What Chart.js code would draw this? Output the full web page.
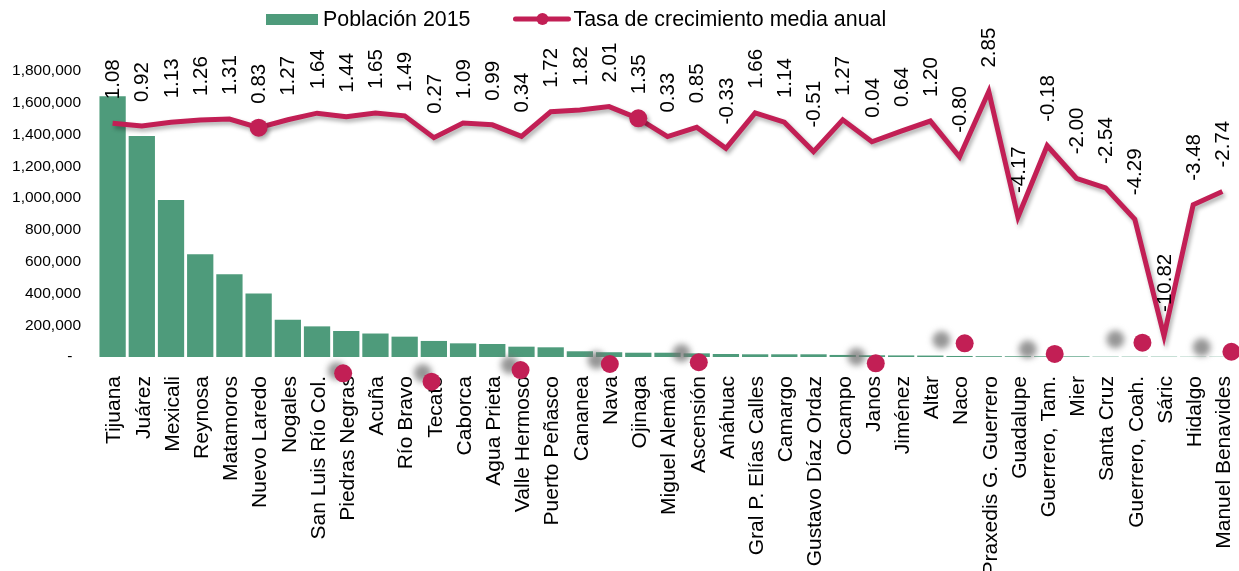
<!DOCTYPE html>
<html>
<head>
<meta charset="utf-8">
<script src="https://cdn.jsdelivr.net/npm/chart.js@4.4.0/dist/chart.umd.min.js"></script>
<style>
html,body{margin:0;padding:0;background:#fff;}
#wrap{width:1239px;height:571px;position:relative;}
</style>
</head>
<body>
<div id="wrap"><canvas id="c" width="1239" height="571"></canvas></div>
<script>
// ---------- DATA ----------
const categories = ["Tijuana","Juárez","Mexicali","Reynosa","Matamoros","Nuevo Laredo","Nogales","San Luis Río Col.","Piedras Negras","Acuña","Río Bravo","Tecate","Caborca","Agua Prieta","Valle Hermoso","Puerto Peñasco","Cananea","Nava","Ojinaga","Miguel Alemán","Ascensión","Anáhuac","Gral P. Elías Calles","Camargo","Gustavo Díaz Ordaz","Ocampo","Janos","Jiménez","Altar","Naco","Praxedis G. Guerrero","Guadalupe","Guerrero, Tam.","Mier","Santa Cruz","Guerrero, Coah.","Sáric","Hidalgo","Manuel Benavides"];

const population2015 = [1641570,1391180,988417,646202,520367,399431,233952,192739,163595,147809,128000,101000,86000,82000,65000,61000,36000,30000,27000,27000,23000,19000,17000,17000,17000,13000,11000,10000,9000,6500,5000,4500,4300,4100,2000,2000,2000,1500,1500];

const growthRate = [1.08,0.92,1.13,1.26,1.31,0.83,1.27,1.64,1.44,1.65,1.49,0.27,1.09,0.99,0.34,1.72,1.82,2.01,1.35,0.33,0.85,-0.33,1.66,1.14,-0.51,1.27,0.04,0.64,1.20,-0.80,2.85,-4.17,-0.18,-2.00,-2.54,-4.29,-10.82,-3.48,-2.74];

const seriesNames = ["Población 2015", "Tasa de crecimiento media anual"];

const populationTicks = [0,200000,400000,600000,800000,1000000,1200000,1400000,1600000,1800000];
const rateRange = [-12, 4];

// categories whose line marker is visible
const lineMarkerIdx = [5, 18];

// stray markers seen in the picture (category position, population units)
const strayRedX = [7.894,10.921,13.968,17.025,20.072,26.131,29.175,32.258,35.262,38.308];
const strayRedY = [-103000,-155000,-82000,-44000,-33000,-40000,86000,19000,90000,33000];
const strayGrayX = [7.679,10.623,13.601,16.570,19.480,25.471,28.380,31.335,34.337,37.292];
const strayGrayY = [-88000,-101000,-50000,-19000,25000,2000,107000,48000,111000,61000];

// ---------- STYLE ----------
const GREEN = '#4E9B7B';
const RED = '#C21F55';
const FONT = '"Liberation Sans", Arial, Helvetica, sans-serif';

const rateLabels = growthRate.map(v => v.toFixed(2));
const toXY = (xs, ys) => xs.map((x, i) => ({x: x, y: ys[i]}));

const effectsPlugin = {
  id: 'effects',
  beforeDatasetDraw(chart, args) {
    const ds = chart.data.datasets[args.index];
    const ctx = chart.ctx;
    if (ds._fx === 'shadow') {
      ctx.save();
      ctx.shadowColor = 'rgba(0,0,0,0.32)';
      ctx.shadowBlur = 4;
      ctx.shadowOffsetX = 2;
      ctx.shadowOffsetY = 3;
    } else if (ds._fx === 'blur') {
      ctx.save();
      ctx.filter = 'blur(3px)';
    }
    if (ds._free) {
      chart._savedArea = chart.chartArea;
      chart.chartArea = {left: 0, top: 0, right: chart.width, bottom: chart.height,
                         width: chart.width, height: chart.height};
    }
  },
  afterDatasetDraw(chart, args) {
    const ds = chart.data.datasets[args.index];
    if (ds._free && chart._savedArea) {
      chart.chartArea = chart._savedArea;
      chart._savedArea = null;
    }
    if (ds._fx === 'shadow' || ds._fx === 'blur') chart.ctx.restore();
  }
};

const rateLabelPlugin = {
  id: 'rateLabels',
  afterDatasetsDraw(chart) {
    const idx = chart.data.datasets.findIndex(d => d._rateLine);
    const meta = chart.getDatasetMeta(idx);
    const ctx = chart.ctx;
    ctx.save();
    ctx.font = '20.5px ' + FONT;
    ctx.fillStyle = '#000';
    ctx.textAlign = 'left';
    ctx.textBaseline = 'middle';
    meta.data.forEach((pt, i) => {
      ctx.save();
      ctx.translate(pt.x + 1, pt.y - 24);
      ctx.rotate(-Math.PI / 2);
      ctx.fillText(rateLabels[i], 0, 0);
      ctx.restore();
    });
    ctx.restore();
  }
};

const legendPlugin = {
  id: 'customLegend',
  afterDraw(chart) {
    const ctx = chart.ctx;
    ctx.save();
    ctx.font = '21.4px ' + FONT;
    ctx.textBaseline = 'alphabetic';
    let x = 266;
    ctx.fillStyle = GREEN;
    ctx.fillRect(x, 14, 52, 11);
    x += 57;
    ctx.fillStyle = '#000';
    ctx.fillText(seriesNames[0], x, 25.7);
    x += ctx.measureText(seriesNames[0]).width + 43;
    ctx.strokeStyle = RED;
    ctx.lineWidth = 5;
    ctx.lineCap = 'round';
    ctx.beginPath();
    ctx.moveTo(x + 2, 19);
    ctx.lineTo(x + 55, 19);
    ctx.stroke();
    ctx.fillStyle = RED;
    ctx.beginPath();
    ctx.arc(x + 29, 19, 6, 0, Math.PI * 2);
    ctx.fill();
    x += 60;
    ctx.fillStyle = '#000';
    ctx.fillText(seriesNames[1], x, 25.7);
    ctx.restore();
  }
};

new Chart(document.getElementById('c'), {
  type: 'bar',
  data: {
    labels: categories,
    datasets: [
      {
        type: 'line',
        label: seriesNames[1],
        data: growthRate,
        yAxisID: 'yRate',
        xAxisID: 'x',
        borderColor: RED,
        backgroundColor: RED,
        borderWidth: 5,
        tension: 0,
        pointRadius: categories.map((c, i) => lineMarkerIdx.includes(i) ? 9 : 0),
        pointBackgroundColor: RED,
        pointBorderWidth: 0,
        order: 0,
        _fx: 'shadow',
        _rateLine: true
      },
      {
        type: 'scatter',
        label: 'stray-red',
        parsing: false,
        data: toXY(strayRedX, strayRedY),
        xAxisID: 'x',
        yAxisID: 'y',
        pointRadius: 9,
        pointBackgroundColor: RED,
        pointBorderWidth: 0,
        clip: false,
        order: 1,
        _free: true
      },
      {
        type: 'scatter',
        label: 'stray-gray',
        parsing: false,
        data: toXY(strayGrayX, strayGrayY),
        xAxisID: 'x',
        yAxisID: 'y',
        pointRadius: 9,
        pointBackgroundColor: 'rgba(115,115,115,0.75)',
        pointBorderWidth: 0,
        clip: false,
        order: 2,
        _fx: 'blur',
        _free: true
      },
      {
        type: 'bar',
        label: seriesNames[0],
        data: population2015,
        yAxisID: 'y',
        xAxisID: 'x',
        backgroundColor: GREEN,
        borderWidth: 0,
        grouped: false,
        barPercentage: 0.9,
        categoryPercentage: 1.0,
        order: 3
      }
    ]
  },
  options: {
    responsive: false,
    animation: false,
    events: [],
    layout: { autoPadding: false, padding: { top: 71, right: 2, left: 0, bottom: 0 } },
    plugins: { legend: { display: false }, tooltip: { enabled: false } },
    scales: {
      x: {
        type: 'category',
        position: 'bottom',
        offset: true,
        z: 1,
        grid: { display: false, drawTicks: false },
        border: { display: false },
        ticks: {
          autoSkip: false,
          maxRotation: 90,
          minRotation: 90,
          padding: 19,
          labelOffset: 2,
          color: '#000',
          font: { family: FONT, size: 21 }
        },
        afterFit(scale) { scale.height = 214; scale.paddingLeft = 0; scale.paddingRight = 0; }
      },
      y: {
        type: 'linear',
        position: 'left',
        min: populationTicks[0],
        max: populationTicks[populationTicks.length - 1],
        grid: { display: false, drawTicks: false },
        border: { display: false },
        afterBuildTicks(scale) { scale.ticks = populationTicks.map(v => ({value: v})); },
        ticks: {
          padding: 17,
          color: '#000',
          font: { family: FONT, size: 15.5 },
          callback(v) { return v === 0 ? '-  ' : v.toLocaleString('en-US'); }
        },
        afterFit(scale) { scale.width = 98; }
      },
      yRate: {
        type: 'linear',
        position: 'right',
        display: false,
        min: rateRange[0],
        max: rateRange[1]
      }
    }
  },
  plugins: [effectsPlugin, rateLabelPlugin, legendPlugin]
});
</script>
</body>
</html>
